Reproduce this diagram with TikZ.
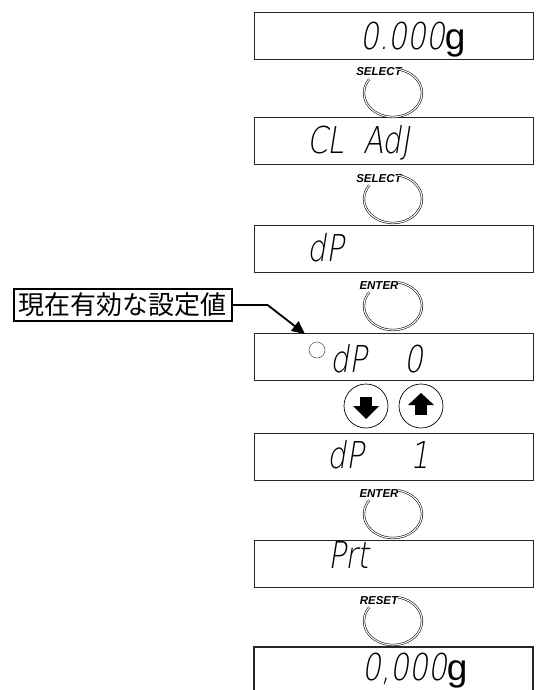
\documentclass[tikz,border=0pt]{standalone}
\usepackage{fontspec}
\setmainfont{Liberation Sans}
\newfontfamily\cjk{Noto Sans CJK JP}
\newfontfamily\segfont{DejaVuSans-ExtraLight.ttf}[FakeSlant=0.2]
\usetikzlibrary{arrows.meta}
\newcommand\sgx[1]{\scalebox{0.8}[1]{\segfont #1}}
\newcommand\keyring[3]{%
  \node[keylbl] (#1) at (379,#2-17) {#3};
  \draw[ring] (393,#2) ++(-80:29 and 24) arc[start angle=-80, end angle=215, x radius=29, y radius=24];
}
\begin{document}
\begin{tikzpicture}[x=1pt,y=-1pt,
  dispbox/.style={draw=black!85, line width=1.3pt, minimum width=279pt, minimum height=47pt, inner sep=0pt, anchor=north west},
  seg/.style={anchor=base west, inner sep=0pt, font=\fontsize{37}{40}\selectfont},
  keylbl/.style={font=\fontsize{11.5}{12}\selectfont\bfseries\itshape, inner sep=0pt, anchor=base},
  ring/.style={draw=black, double=white, double distance=1.1pt, line width=0.55pt},
  arrowkey/.style={draw=black, circle, line width=0.7pt, minimum size=44pt, inner sep=0pt},
  note/.style={draw=black, line width=1.6pt, font=\cjk\fontsize{26}{28}\selectfont, inner xsep=5pt, inner ysep=1pt, minimum height=32pt, anchor=west}
]
\useasboundingbox (0,0) rectangle (537,690);

% display boxes
\node[dispbox] (b1) at (254,12) {};
\node[dispbox] (b2) at (254,117) {};
\node[dispbox] (b3) at (254,225) {};
\node[dispbox] (b4) at (254,333) {};
\node[dispbox] (b5) at (254,433) {};
\node[dispbox] (b6) at (254,540) {};
\draw[draw=black!85, line width=1.3pt] (254,692) -- (254,647) -- (533,647) -- (533,692);

% display texts
\node[seg] (t1) at (360,50) {\sgx{0.000}g};
\node[seg] (t2) at (307,153) {\sgx{CL~~AdJ}};
\node[seg] (t3) at (307,261) {\sgx{dP}};
\node[seg] (t4) at (330,372) {\sgx{dP~~~~0}};
\node[seg] (t5) at (327,468) {\sgx{dP~~~~~1}};
\node[seg] (t6) at (328,568) {\sgx{Prt}};
\node[seg] (t7) at (362,680) {\sgx{0,000}g};

% key rings
\keyring{k1}{93}{SELECT}
\keyring{k2}{199}{SELECT}
\keyring{k3}{306}{ENTER}
\keyring{k4}{514}{ENTER}
\keyring{k5}{621}{RESET}

% arrow keys
\node[arrowkey] (down) at (366,406) {};
\node[arrowkey] (up) at (421,406) {};
\fill (down.center) ++(-6,-9) rectangle ++(12,9.5);
\fill (down.center) ++(-13,0) -- ++(26,0) -- ++(-13,13) -- cycle;
\fill (up.center) ++(-6,9) rectangle ++(12,-10.5);
\fill (up.center) ++(-13,-1) -- ++(26,0) -- ++(-13,-12) -- cycle;

% current-value indicator
\node[circle, draw=black!70, line width=0.5pt, minimum size=16pt, inner sep=0pt] (dot) at (317,350) {};

% callout
\node[note] (lbl) at (13,305) {現在有効な設定値};
\coordinate (tip) at (305,334);
\draw[line width=1.8pt, -{Triangle[length=13pt,width=12pt]}] (lbl.east) -- ++(35,0) -- (tip);
\end{tikzpicture}
\end{document}
